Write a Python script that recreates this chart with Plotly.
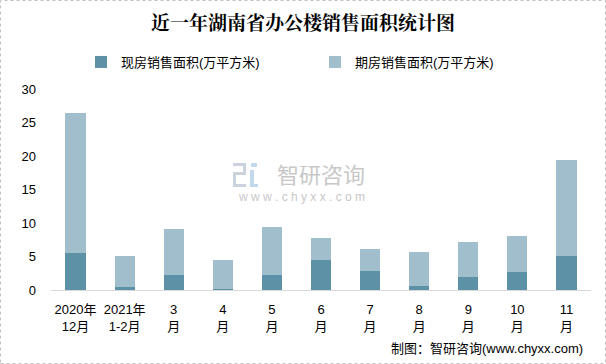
import plotly.graph_objects as go

categories = ["2020年<br>12月", "2021年<br>1-2月", "3<br>月", "4<br>月", "5<br>月", "6<br>月",
              "7<br>月", "8<br>月", "9<br>月", "10<br>月", "11<br>月"]
spot_sales = [5.52, 0.45, 2.25, 0.15, 2.25, 4.48, 2.84, 0.60, 1.94, 2.69, 5.07]
presale_sales = [20.88, 4.62, 6.85, 4.33, 7.15, 3.28, 3.28, 5.07, 5.22, 5.37, 14.33]
y_ticks = [0, 5, 10, 15, 20, 25, 30]

font_family = "Liberation Sans, Noto Sans CJK SC, sans-serif"

W, H = 606, 364
ML, MR, MT, MB = 51, 15, 89, 74
PW, PH = W - ML - MR, H - MT - MB


def px(x):
    return (x - ML) / PW


def py(y):
    return (H - MB - y) / PH


fig = go.Figure()
fig.add_trace(go.Bar(x=categories, y=spot_sales, name="现房销售面积(万平方米)",
                     marker=dict(color="#5D91A6", line=dict(width=0))))
fig.add_trace(go.Bar(x=categories, y=presale_sales, name="期房销售面积(万平方米)",
                     marker=dict(color="#A0BECB", line=dict(width=0))))

fig.update_layout(
    barmode="stack",
    bargap=0.59,
    width=W, height=H,
    margin=dict(l=ML, r=MR, t=MT, b=MB),
    paper_bgcolor="white", plot_bgcolor="white",
    font=dict(family=font_family, size=13, color="#000000"),
    title=dict(text="<b>近一年湖南省办公楼销售面积统计图</b>", x=0.5, xanchor="center",
               y=1 - 23 / H, yanchor="middle",
               font=dict(family="Noto Serif CJK SC, Noto Sans CJK SC, serif", size=19, color="#000000")),
    legend=dict(orientation="h", x=0.5 - 6 / PW, xanchor="center", y=py(62), yanchor="middle",
                font=dict(size=13), itemwidth=30, entrywidth=189, traceorder="normal"),
    showlegend=True,
)

fig.update_xaxes(showline=True, linecolor="#D9D9D9", linewidth=1, ticks="",
                 ticklabelstandoff=7, tickfont=dict(size=13), showgrid=False, fixedrange=True)
fig.update_yaxes(range=[0, 30], tickvals=y_ticks, showgrid=False, zeroline=False,
                 showline=False, ticks="", ticklabelstandoff=14,
                 tickfont=dict(size=13), fixedrange=True)

# watermark text
fig.add_annotation(text="智研咨询", x=px(321), y=py(173), xref="paper", yref="paper",
                   showarrow=False, borderpad=0,
                   font=dict(size=22, color="#C8C8C8", family="Noto Sans CJK SC"))
fig.add_annotation(text="w w w . c h y x x . c o m", x=px(301), y=py(197), xref="paper",
                   yref="paper", showarrow=False, borderpad=0,
                   font=dict(size=12, color="#C8C8C8", family="Liberation Sans"))

# watermark logo, drawn from simple blocks
logo_grey = "#CBD3DF"
logo_blue = "#C3DAEE"
logo_blocks = [
    (233, 163, 246, 166, logo_grey),
    (243, 163, 246, 175, logo_grey),
    (233, 172, 246, 175, logo_grey),
    (233, 172, 236, 187, logo_grey),
    (233, 184, 246, 187, logo_grey),
    (251, 163, 257, 167, logo_blue),
    (250, 170, 254, 187, logo_blue),
    (250, 184, 258, 187, logo_blue),
]
for x0, y0, x1, y1, c in logo_blocks:
    fig.add_shape(type="rect", xref="paper", yref="paper", x0=px(x0), x1=px(x1),
                  y0=py(y1), y1=py(y0), fillcolor=c, line=dict(width=0), layer="below")

# source note
fig.add_annotation(text="制图：智研咨询(www.chyxx.com)", x=px(585), y=py(348),
                   xref="paper", yref="paper", xanchor="right", yanchor="middle",
                   showarrow=False, font=dict(size=13, color="#000000"))

# outer frame
fig.add_shape(type="rect", xref="paper", yref="paper", x0=px(0.5), x1=px(W - 0.5),
              y0=py(H - 0.5), y1=py(0.5),
              line=dict(color="#BFBFBF", width=1, dash="dot"))

fig.write_html("out.html")
